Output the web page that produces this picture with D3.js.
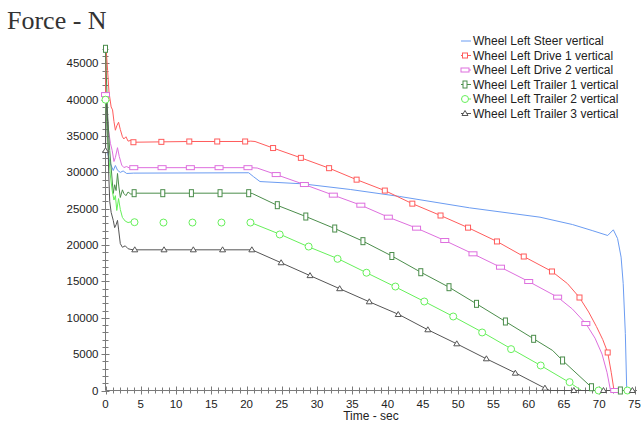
<!DOCTYPE html>
<html>
<head>
<meta charset="utf-8">
<script src="https://cdn.jsdelivr.net/npm/d3@7"></script>
<style>
  html, body { margin: 0; padding: 0; background: #fff; }
  svg { display: block; }
  text { font-family: "Liberation Sans", Arial, sans-serif; fill: #222; }
</style>
</head>
<body>
<svg id="chart" width="642" height="426"></svg>
<script>
// Wheel vertical forces over time, [time (s), force (N)]
const steerLine = [[0,33000],[0.3,32600],[0.7,31200],[1.1,30260],[1.4,30950],[1.7,30300],[2.1,30000],[2.5,30200],[3,29850],[4,29900],[20.3,29950],[21,29400],[21.9,28740],[27.9,28430],[34.7,27650],[41.7,26690],[51.6,25130],[61.6,23840],[66.2,22830],[69,22000],[71.2,21320],[72,22100],[72.6,20900],[73.1,18340],[73.4,14700],[73.7,7840],[73.9,0],[75,0]];

const drive1Line = [[0,40300],[0.1,46800],[0.3,44000],[0.5,41000],[0.8,39000],[1.0,38600],[1.2,37000],[1.4,35800],[1.6,36400],[1.85,36900],[2.1,35900],[2.4,34900],[2.6,34600],[2.9,34900],[3.2,34300],[3.6,34400],[4,34150],[8,34200],[12,34250],[20,34250],[20.6,34300],[21.2,34250],[23.76,33350],[27.7,32000],[31.7,30580],[35.6,29000],[39.6,27500],[43.5,25700],[47.5,24070],[51.4,22400],[55.5,20500],[59.3,18430],[63.3,16370],[65.5,14700],[67.2,12790],[68.5,10800],[69.6,8800],[70.5,7000],[71.2,5230],[71.7,2500],[72.1,0],[75,0]];
const drive1Marks = [[0,40300],[3.96,34150],[7.92,34200],[11.88,34250],[15.84,34250],[19.8,34250],[23.76,33350],[27.7,32000],[31.7,30580],[35.6,29000],[39.6,27500],[43.5,25700],[47.5,24070],[51.4,22400],[55.5,20500],[59.3,18430],[63.3,16370],[67.2,12790],[71.2,5230]];

const drive2Line = [[0,40700],[0.15,39000],[0.4,36000],[0.7,34000],[0.95,33000],[1.2,31500],[1.4,32050],[1.7,33400],[1.95,32200],[2.3,31000],[2.6,30670],[3.0,30800],[3.4,30600],[4,30650],[20.5,30650],[21.5,30600],[24.2,29700],[28.2,28330],[32.3,26870],[36.2,25490],[40.1,23840],[44.1,22330],[48.1,20630],[52.1,18800],[56,16960],[60,14990],[64.1,12840],[66.2,11200],[68.1,9210],[69.4,7200],[70.4,5000],[71.1,2500],[71.6,0],[75,0]];
const drive2Marks = [[0,40700],[4.01,30650],[8.02,30650],[12.03,30650],[16.1,30650],[20.2,30650],[24.2,29700],[28.2,28330],[32.3,26870],[36.2,25490],[40.1,23840],[44.1,22330],[48.1,20630],[52.1,18800],[56,16960],[60,14990],[64.1,12840],[68.1,9210],[72.2,0]];

const trailer1Line = [[0,47000],[0.1,44000],[0.3,38000],[0.6,33000],[0.9,29500],[1.1,27100],[1.3,28300],[1.5,27500],[1.7,29850],[1.9,28000],[2.1,26550],[2.4,27600],[2.6,27100],[2.9,26800],[3.2,27300],[3.6,27000],[4.06,27140],[20.4,27140],[20.8,27100],[24.3,25490],[28.4,23930],[32.5,22280],[36.5,20540],[40.6,18500],[44.7,16270],[48.7,14210],[52.6,11920],[56.7,9490],[60.7,7110],[63.4,5500],[64.8,4130],[68.9,450],[69.3,0],[75,0]];
const trailer1Marks = [[0,47000],[4.06,27140],[8.12,27140],[12.18,27140],[16.24,27140],[20.3,27140],[24.36,25490],[28.4,23930],[32.5,22280],[36.5,20540],[40.6,18500],[44.7,16270],[48.7,14210],[52.6,11920],[56.7,9490],[60.7,7110],[64.8,4130],[68.9,450],[73,0]];

// null marks a stretch where the trace is not drawn
const trailer2Line = [[0,40000],[0.15,37000],[0.4,33000],[0.7,29500],[0.95,27500],[1.2,26200],[1.4,26800],[1.6,24760],[1.85,26400],[2.1,24900],[2.4,23800],[2.8,23300],[3.2,23100],[3.6,23200],[4.2,23150],null,[20.6,23100],[24.8,21460],[28.7,19800],[33,18110],[37,16200],[41,14300],[45.2,12240],[49.3,10180],[53.5,7980],[57.6,5690],[61.7,3440],[65.7,1150],[67.5,0],[75,0]];
const trailer2Marks = [[0,40000],[4.11,23150],[8.22,23100],[12.33,23100],[16.44,23100],[20.55,23100],[24.7,21460],[28.8,19800],[32.9,18110],[37,16200],[41.1,14300],[45.2,12240],[49.3,10180],[53.4,7980],[57.5,5690],[61.7,3440],[65.8,1150],[69.9,0],[74,0]];

const trailer3Line = [[0,33000],[0.12,40000],[0.3,37000],[0.45,30000],[0.6,26000],[0.8,24500],[1.1,23400],[1.3,22400],[1.5,22800],[1.7,23400],[1.85,22200],[2.1,20200],[2.4,19700],[2.8,19900],[3.2,19500],[3.6,19400],[4.15,19350],[20.75,19350],[24.9,17570],[29,15800],[33.2,14000],[37.4,12200],[41.6,10450],[45.7,8350],[49.8,6420],[54,4360],[58.2,2380],[62.3,320],[63,0],[75,0]];
const trailer3Marks = [[0,33000],[4.15,19350],[8.3,19350],[12.45,19350],[16.6,19350],[20.75,19350],[24.9,17570],[29,15800],[33.2,14000],[37.4,12200],[41.5,10450],[45.7,8350],[49.8,6420],[54,4360],[58.1,2380],[62.3,320],[66.4,0],[70.6,0],[74.7,0]];

const seriesNames = ["Wheel Left Steer vertical","Wheel Left Drive 1 vertical","Wheel Left Drive 2 vertical","Wheel Left Trailer 1 vertical","Wheel Left Trailer 2 vertical","Wheel Left Trailer 3 vertical"];
const seriesColors = ["#6b9cf2","#ff5c5c","#de6fde","#4b8d4b","#66f05a","#555555"];
const seriesShapes = ["none","square","wideRect","tallRect","circle","triangle"];

const xTickValues = [0,5,10,15,20,25,30,35,40,45,50,55,60,65,70,75];
const yTickValues = [0,5000,10000,15000,20000,25000,30000,35000,40000,45000];

const series = [
  {line: steerLine, marks: []},
  {line: drive1Line, marks: drive1Marks},
  {line: drive2Line, marks: drive2Marks},
  {line: trailer1Line, marks: trailer1Marks},
  {line: trailer2Line, marks: trailer2Marks},
  {line: trailer3Line, marks: trailer3Marks}
].map((s, i) => ({...s, name: seriesNames[i], color: seriesColors[i], shape: seriesShapes[i]}));

const svg = d3.select("#chart");
const x = d3.scaleLinear().domain([0, 75]).range([105.5, 634.5]);
const y = d3.scaleLinear().domain([0, 47000]).range([390.5, 48.8]);

// title
svg.append("text").attr("x", 7).attr("y", 29)
  .style("font-family", "'Liberation Serif', 'Times New Roman', serif")
  .style("font-size", "26px").style("fill", "#333")
  .text("Force - N");

// axes with ticks crossing the axis line
const axisColor = "#7a7a7a";
const gAxes = svg.append("g");
gAxes.append("line").attr("x1", x(0)).attr("x2", 637).attr("y1", y(0)).attr("y2", y(0)).attr("stroke", axisColor);
gAxes.append("line").attr("x1", x(0)).attr("x2", x(0)).attr("y1", y(0)).attr("y2", y(47000)).attr("stroke", axisColor);

gAxes.selectAll(".xminor").data(d3.range(0, 76, 1)).join("line")
  .attr("x1", d => Math.round(x(d)) + 0.5).attr("x2", d => Math.round(x(d)) + 0.5)
  .attr("y1", d => y(0) - (d % 5 === 0 ? 4 : 3)).attr("y2", d => y(0) + (d % 5 === 0 ? 4 : 3))
  .attr("stroke", axisColor);
gAxes.selectAll(".yminor").data(d3.range(0, 47001, 1000)).join("line")
  .attr("y1", d => Math.round(y(d)) + 0.5).attr("y2", d => Math.round(y(d)) + 0.5)
  .attr("x1", d => x(0) - (d % 5000 === 0 ? 4 : 3)).attr("x2", d => x(0) + (d % 5000 === 0 ? 4 : 3))
  .attr("stroke", axisColor);

gAxes.selectAll(".xlab").data(xTickValues).join("text")
  .attr("x", d => x(d)).attr("y", 407.5).attr("text-anchor", "middle")
  .style("font-size", "11.5px").text(d => d);
gAxes.selectAll(".ylab").data(yTickValues).join("text")
  .attr("x", 98.5).attr("y", d => y(d) + 4).attr("text-anchor", "end")
  .style("font-size", "11.5px").text(d => d);

svg.append("text").attr("x", 371).attr("y", 420).attr("text-anchor", "middle")
  .style("font-size", "12px").text("Time - sec");

// traces
const line = d3.line().defined(d => d !== null).x(d => x(d[0])).y(d => y(d[1]));
const gLines = svg.append("g");
series.forEach(s => {
  gLines.append("path").attr("d", line(s.line)).attr("fill", "none")
    .attr("stroke", s.color).attr("stroke-width", 1).attr("stroke-linejoin", "round");
});

function drawMarker(g, shape, cx, cy, color) {
  if (shape === "square") {
    g.append("rect").attr("x", cx - 2.5).attr("y", cy - 2.5).attr("width", 5).attr("height", 5)
      .attr("fill", "#fff").attr("stroke", color);
  } else if (shape === "wideRect") {
    g.append("rect").attr("x", cx - 4).attr("y", cy - 2).attr("width", 8).attr("height", 4)
      .attr("fill", "#fff").attr("stroke", color);
  } else if (shape === "tallRect") {
    g.append("rect").attr("x", cx - 2).attr("y", cy - 3.5).attr("width", 4).attr("height", 7)
      .attr("fill", "#fff").attr("stroke", color);
  } else if (shape === "circle") {
    g.append("circle").attr("cx", cx).attr("cy", cy).attr("r", 3.5)
      .attr("fill", "#fff").attr("stroke", color);
  } else if (shape === "triangle") {
    g.append("path").attr("d", `M${cx},${cy - 3}L${cx + 3},${cy + 2}L${cx - 3},${cy + 2}Z`)
      .attr("fill", "#fff").attr("stroke", color);
  }
}

const gMarks = svg.append("g");
series.forEach(s => {
  s.marks.forEach(d => drawMarker(gMarks, s.shape, x(d[0]), y(d[1]), s.color));
});

// legend
const legend = svg.append("g");
series.forEach((s, i) => {
  const ly = 41 + i * 14.5;
  legend.append("line").attr("x1", 461).attr("x2", 471).attr("y1", ly).attr("y2", ly)
    .attr("stroke", s.color);
  drawMarker(legend, s.shape, 465, ly, s.color);
  legend.append("text").attr("x", 473).attr("y", ly + 4).style("font-size", "12px").text(s.name);
});
</script>
</body>
</html>
